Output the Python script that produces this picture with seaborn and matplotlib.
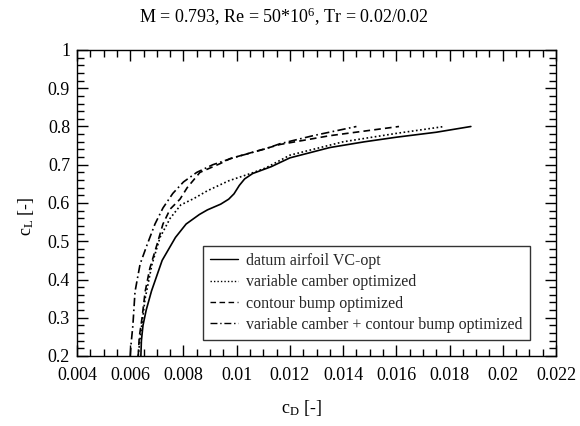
import numpy as np
import pandas as pd
import matplotlib
matplotlib.use("Agg")
import matplotlib.pyplot as plt
import seaborn as sns
from matplotlib.ticker import MultipleLocator

# ---- data ----
datum_cd = [0.0064, 0.00642, 0.00648, 0.0066, 0.0068, 0.0072, 0.0077, 0.0081, 0.0086, 0.0089,
            0.0094, 0.0097, 0.0099, 0.0101, 0.0103, 0.0106, 0.0113, 0.0120, 0.0135, 0.0148, 0.0160, 0.0175, 0.0188]
datum_cl = [0.200, 0.240, 0.280, 0.320, 0.370, 0.450, 0.510, 0.545, 0.570, 0.582,
            0.597, 0.610, 0.624, 0.646, 0.663, 0.677, 0.695, 0.718, 0.745, 0.760, 0.772, 0.785, 0.800]

vc_cd = [0.0063, 0.00637, 0.00656, 0.00682, 0.00712, 0.0075, 0.0079, 0.0084, 0.0089, 0.0097,
         0.0106, 0.0111, 0.0120, 0.0140, 0.0160, 0.0178]
vc_cl = [0.200, 0.245, 0.350, 0.440, 0.510, 0.560, 0.595, 0.612, 0.632, 0.658,
         0.679, 0.692, 0.725, 0.760, 0.782, 0.800]

cb_cd = [0.0063, 0.00634, 0.00644, 0.00656, 0.00674, 0.0070, 0.00723, 0.0075, 0.00787, 0.00814,
         0.00862, 0.00938, 0.00975, 0.01163, 0.0135, 0.0161]
cb_cl = [0.200, 0.250, 0.297, 0.368, 0.430, 0.490, 0.545, 0.584, 0.610, 0.640,
         0.680, 0.703, 0.716, 0.753, 0.776, 0.800]

vccb_cd = [0.0060, 0.00603, 0.0061, 0.00618, 0.00637, 0.00663, 0.00693, 0.00723, 0.00760, 0.00800,
           0.0085, 0.0091, 0.00986, 0.0111, 0.01163, 0.01287, 0.0145]
vccb_cl = [0.200, 0.230, 0.280, 0.368, 0.440, 0.490, 0.545, 0.587, 0.625, 0.655,
           0.680, 0.700, 0.718, 0.742, 0.755, 0.776, 0.800]

labels = ["datum airfoil VC-opt",
          "variable camber optimized",
          "contour bump optimized",
          "variable camber + contour bump optimized"]
title = "M = 0.793, Re = 50*10$^{6}$, Tr = 0.02/0.02"
x_ticks = [0.004, 0.006, 0.008, 0.01, 0.012, 0.014, 0.016, 0.018, 0.02, 0.022]
x_tick_labels = ["0.004", "0.006", "0.008", "0.01", "0.012", "0.014", "0.016", "0.018", "0.02", "0.022"]
y_ticks = [0.2, 0.3, 0.4, 0.5, 0.6, 0.7, 0.8, 0.9, 1.0]
y_tick_labels = ["0.2", "0.3", "0.4", "0.5", "0.6", "0.7", "0.8", "0.9", "1"]

sns.set_theme(style="ticks")
plt.rcParams['font.family'] = ['Liberation Serif', 'DejaVu Serif']
plt.rcParams['mathtext.fontset'] = 'custom'
plt.rcParams['mathtext.rm'] = 'Liberation Serif'
plt.rcParams['mathtext.it'] = 'Liberation Serif'

fig = plt.figure(figsize=(5.8, 4.26), dpi=100)
ax_l, ax_r, ax_t, ax_b = 77, 556, 50, 356
ax = fig.add_axes([ax_l/580, 1-ax_b/426, (ax_r-ax_l)/580, (ax_b-ax_t)/426])

series = [(datum_cd, datum_cl, "-"),
          (vc_cd, vc_cl, (0, (1, 1.5))),
          (cb_cd, cb_cl, (0, (4, 2.5))),
          (vccb_cd, vccb_cl, (0, (5, 2, 1, 2)))]
for (cd, cl, ls), lab in zip(series, labels):
    df = pd.DataFrame({"cd": cd, "cl": cl})
    sns.lineplot(data=df, x="cd", y="cl", ax=ax, sort=False, estimator=None,
                 color="black", linewidth=1.2, linestyle=ls, label=lab)

ax.set_xlim(0.004, 0.022)
ax.set_ylim(0.2, 1.0)
ax.set_xticks(x_ticks)
ax.set_xticklabels(x_tick_labels)
ax.set_yticks(y_ticks)
ax.set_yticklabels(y_tick_labels)
ax.xaxis.set_minor_locator(MultipleLocator(0.0005))
ax.yaxis.set_minor_locator(MultipleLocator(0.02))
ax.tick_params(which="both", direction="in", top=True, right=True, color="black",
               labelsize=13, labelcolor="black")
ax.tick_params(axis="x", which="both", pad=8)
ax.tick_params(axis="y", which="both", pad=5)
ax.tick_params(which="major", length=8, width=1)
ax.tick_params(which="minor", length=5, width=1)
for s in ax.spines.values():
    s.set_color("black")
    s.set_linewidth(1.0)

ax.set_xlabel("")
ax.set_ylabel("")
fig.text(0.52, 1-408/426, "c$_{\\mathrm{D}}$ [-]", ha="center", va="center", fontsize=13, color="black")
fig.text(0.045, 1-216/426, "c$_{\\mathrm{L}}$ [-]", ha="center", va="center", rotation=90,
         fontsize=13, color="black")
fig.text(0.49, 1-17/426, title, ha="center", va="center", fontsize=13, color="black")

leg = ax.legend(loc="lower left",
                bbox_to_anchor=((203-ax_l)/(ax_r-ax_l), (ax_b-340)/(ax_b-ax_t)),
                borderaxespad=0,
                frameon=True, fancybox=False, edgecolor="black", fontsize=11.5,
                handlelength=1.75, handletextpad=0.5, borderpad=0.45, labelspacing=0.33)
leg.get_frame().set_linewidth(1.0)
for line in leg.get_lines():
    line.set_linewidth(1.0)

fig.savefig("out.png", dpi=100)
